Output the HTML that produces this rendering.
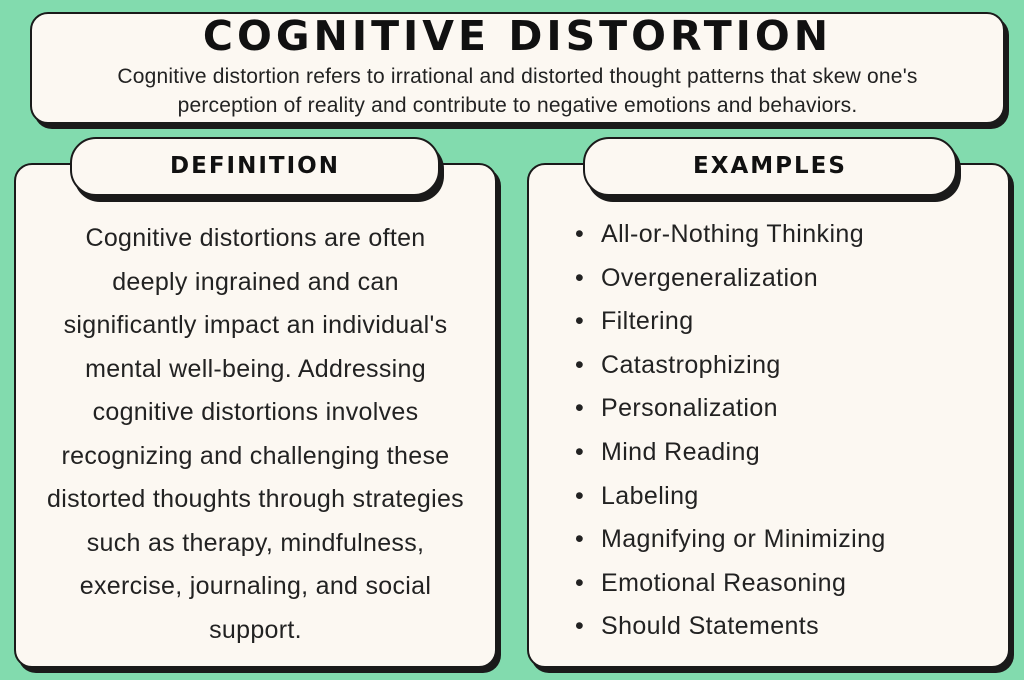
<!DOCTYPE html>
<html><head><meta charset="utf-8"><style>
*{margin:0;padding:0;box-sizing:border-box}
body{width:1024px;height:680px;background:#82dbae;position:relative;overflow:hidden;font-family:"Liberation Sans",sans-serif;color:#222}
.box{position:absolute;background:#fcf8f2;border:2px solid #1a1a1a;border-radius:18px;box-shadow:4px 5px 0 #1a1a1a}
.title{position:absolute;left:30px;width:975px;top:12px;text-align:center;font-weight:900;font-size:41px;letter-spacing:4px;color:#111;font-family:"DejaVu Sans","Liberation Sans",sans-serif}
.sub{position:absolute;left:30px;width:975px;top:62px;text-align:center;font-size:21px;line-height:29px;letter-spacing:0.2px;color:#222}
.tab{position:absolute;background:#fcf8f2;border:2px solid #1a1a1a;border-radius:26px;box-shadow:4px 6px 0 #1a1a1a;text-align:center;font-family:"DejaVu Sans",sans-serif;font-weight:900;font-size:23px;letter-spacing:2px;line-height:55px;color:#111}
.def{position:absolute;left:14px;width:483px;top:217px;text-align:center;font-size:25px;line-height:43.5px;letter-spacing:0.3px}
ul{position:absolute;left:575px;top:213px;list-style:none;font-size:25px;line-height:43.6px;letter-spacing:0.4px}
li:before{content:"•";display:inline-block;width:26px}
</style></head><body>
<div class="box" style="left:30px;top:12px;width:975px;height:112px"></div>
<div class="title">COGNITIVE DISTORTION</div>
<div class="sub">Cognitive distortion refers to irrational and distorted thought patterns that skew one's<br>perception of reality and contribute to negative emotions and behaviors.</div>
<div class="box" style="left:14px;top:163px;width:483px;height:505px"></div>
<div class="box" style="left:527px;top:163px;width:483px;height:505px"></div>
<div class="tab" style="left:70px;top:137px;width:370px;height:59px">DEFINITION</div>
<div class="tab" style="left:583px;top:137px;width:374px;height:59px">EXAMPLES</div>
<div class="def">Cognitive distortions are often<br>deeply ingrained and can<br>significantly impact an individual's<br>mental well-being. Addressing<br>cognitive distortions involves<br>recognizing and challenging these<br>distorted thoughts through strategies<br>such as therapy, mindfulness,<br>exercise, journaling, and social<br>support.</div>
<ul>
<li>All-or-Nothing Thinking</li><li>Overgeneralization</li><li>Filtering</li><li>Catastrophizing</li><li>Personalization</li><li>Mind Reading</li><li>Labeling</li><li>Magnifying or Minimizing</li><li>Emotional Reasoning</li><li>Should Statements</li>
</ul>
</body></html>
